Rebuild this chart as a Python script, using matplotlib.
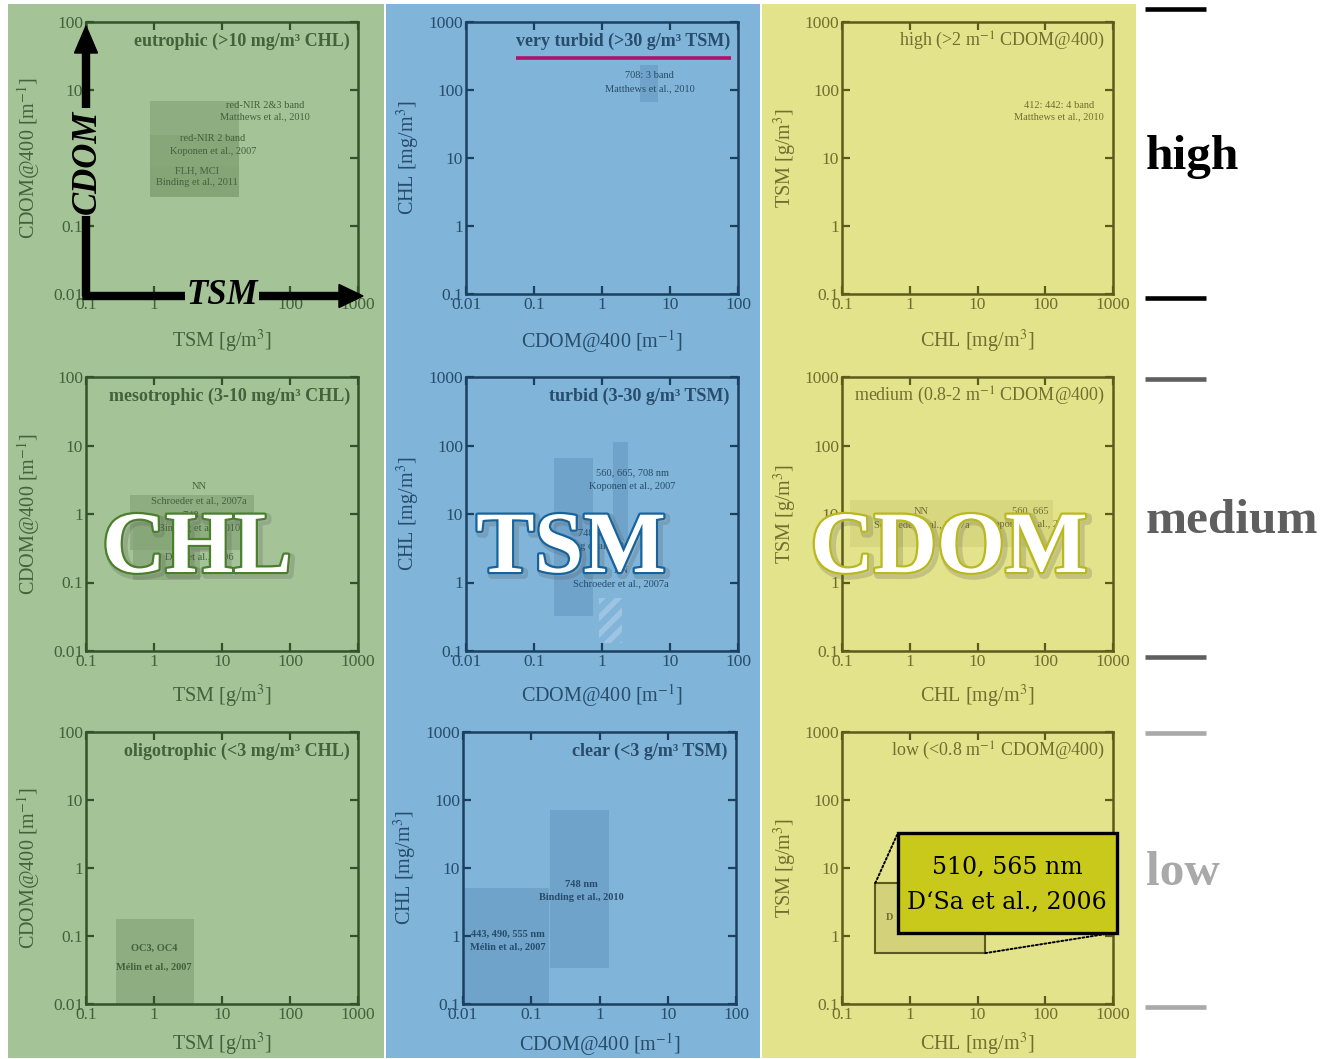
import matplotlib
matplotlib.use("Agg")
import matplotlib.pyplot as plt
from matplotlib.patches import Rectangle, FancyArrow, ConnectionPatch
from matplotlib.ticker import FixedLocator, FixedFormatter, NullLocator
from matplotlib import patheffects as pe

plt.rcParams['mathtext.fontset'] = 'stix'
plt.rcParams['hatch.linewidth'] = 4.0
SERIF = ['Liberation Serif', 'DejaVu Serif']

W, H = 1336, 1059

# ---------------- data ----------------
TSM_TICKS = [0.1, 1, 10, 100, 1000]
TSM_LABELS = ['0.1', '1', '10', '100', '1000']
CDOM_TICKS = [0.01, 0.1, 1, 10, 100]
CDOM_LABELS = ['0.01', '0.1', '1', '10', '100']
CHL_TICKS = [0.1, 1, 10, 100, 1000]
CHL_LABELS = ['0.1', '1', '10', '100', '1000']

TSM_NAME = 'TSM [g/m$^3$]'
CDOM_NAME = 'CDOM@400 [m$^{-1}$]'
CHL_NAME = 'CHL [mg/m$^3$]'

chl_titles = ['eutrophic (>10 mg/m³ CHL)', 'mesotrophic (3-10 mg/m³ CHL)',
              'oligotrophic (<3 mg/m³ CHL)']
tsm_titles = ['very turbid (>30 g/m³ TSM)', 'turbid (3-30 g/m³ TSM)',
              'clear (<3 g/m³ TSM)']
cdom_titles = ['high (>2 m$^{-1}$ CDOM@400)', 'medium (0.8-2 m$^{-1}$ CDOM@400)',
               'low (<0.8 m$^{-1}$ CDOM@400)']

# method validity ranges (x0, x1, y0, y1)
eutrophic_boxes = [(0.87, 18, 0.27, 6.9), (0.87, 18, 0.27, 2.2), (0.87, 18, 0.27, 0.75)]
eutrophic_text = [(43, 6.0, 'red-NIR 2&3 band'), (43, 4.0, 'Matthews et al., 2010'),
                  (7.4, 1.96, 'red-NIR 2 band'), (7.4, 1.26, 'Koponen et al., 2007'),
                  (4.3, 0.65, 'FLH, MCI'), (4.3, 0.43, 'Binding et al., 2011')]
very_turbid_boxes = [(3.6, 6.6, 67, 233)]
very_turbid_text = [(5.0, 166, '708: 3 band'), (5.0, 103, 'Matthews et al., 2010')]
very_turbid_line = (0.055, 80, 300)
high_cdom_text = [(160, 60, '412: 442: 4 band'), (160, 40, 'Matthews et al., 2010')]

meso_boxes = [(0.49, 4.8, 0.11, 0.93), (0.45, 30, 0.3, 1.9)]
meso_text = [(4.6, 2.5, 'NN'), (4.6, 1.55, 'Schroeder et al., 2007a'),
             (4.6, 0.95, '748 nm'), (4.6, 0.62, 'Binding et al., 2010'),
             (4.6, 0.38, 'OC4'), (4.6, 0.24, "D'Sa et al., 2006")]
turbid_boxes = [(0.2, 0.74, 0.32, 66), (1.45, 2.4, 4, 112)]
turbid_hatch = (0.9, 2.0, 0.13, 0.6)
turbid_text = [(2.8, 40, '560, 665, 708 nm'), (2.8, 25, 'Koponen et al., 2007'),
               (0.75, 5.2, '748 nm'), (0.75, 3.3, 'Binding et al., 2010'),
               (1.9, 1.5, 'NN'), (1.9, 0.95, 'Schroeder et al., 2007a')]
medium_boxes = [(0.13, 130, 3.3, 16)]
medium_text = [(1.5, 11, 'NN'), (1.5, 7.0, 'Schroeder et al., 2007a'),
               (60, 11, '560, 665'), (60, 7.0, 'Koponen et al., 2007')]

oligo_boxes = [(0.28, 3.9, 0.01, 0.18)]
oligo_text = [(1.0, 0.065, 'OC3, OC4'), (1.0, 0.035, 'Mélin et al., 2007')]
clear_boxes = [(0.01, 0.18, 0.1, 5.1), (0.19, 1.38, 0.34, 71)]
clear_text = [(0.55, 5.8, '748 nm'), (0.55, 3.7, 'Binding et al., 2010'),
              (0.045, 1.05, '443, 490, 555 nm'), (0.045, 0.68, 'Mélin et al., 2007')]
low_boxes = [(0.31, 13, 0.56, 6.0)]
low_text = [(0.5, 1.9, 'D')]

callout_lines = ['510, 565 nm', 'D‘Sa et al., 2006']
level_names = ['high', 'medium', 'low']
level_colors = ['#000000', '#5f5f5f', '#a9a9a9']

# ---------------- style ----------------
col_bg = ['#a4c396', '#80b4d8', '#e3e38b']
col_spine = ['#32522a', '#1b3f60', '#5c5a1c']
col_text = ['#43613a', '#274c6c', '#716e30']
col_box = ['#86a577', '#6a9dc4', '#d3d27a']
col_x = [(86, 358), (466, 738), (842, 1113)]
row_y = [(22, 294), (377, 651), (732, 1004)]

fig = plt.figure(figsize=(W / 100, H / 100), dpi=100)
fig.patch.set_facecolor('white')

for (x0, x1), c in zip([(8, 384), (386, 760), (762, 1136)], col_bg):
    fig.patches.append(Rectangle((x0 / W, 1 - 1058 / H), (x1 - x0) / W, (1058 - 4) / H,
                                 transform=fig.transFigure, facecolor=c,
                                 edgecolor='none', zorder=-5))

col_specs = [
    (TSM_TICKS, TSM_LABELS, CDOM_TICKS, CDOM_LABELS, TSM_NAME, CDOM_NAME, chl_titles),
    (CDOM_TICKS, CDOM_LABELS, CHL_TICKS, CHL_LABELS, CDOM_NAME, CHL_NAME, tsm_titles),
    (CHL_TICKS, CHL_LABELS, TSM_TICKS, TSM_LABELS, CHL_NAME, TSM_NAME, cdom_titles),
]
panel_boxes = [[eutrophic_boxes, very_turbid_boxes, []],
               [meso_boxes, turbid_boxes, medium_boxes],
               [oligo_boxes, clear_boxes, low_boxes]]
panel_texts = [[eutrophic_text, very_turbid_text, high_cdom_text],
               [meso_text, turbid_text, medium_text],
               [oligo_text, clear_text, low_text]]
xlab_off = [-0.125, -0.115, -0.1]

axes = {}
for r in range(3):
    for c in range(3):
        xt, xl, yt, yl, xn, yn, titles = col_specs[c]
        x0, x1 = col_x[c]
        if r == 2 and c == 1:
            x0, x1 = 463, 736
        y0, y1 = row_y[r]
        ax = fig.add_axes([x0 / W, 1 - y1 / H, (x1 - x0) / W, (y1 - y0) / H])
        ax.set_facecolor('none')
        ax.set_xscale('log')
        ax.set_yscale('log')
        ax.set_xlim(xt[0], xt[-1])
        ax.set_ylim(yt[0], yt[-1])
        ax.xaxis.set_major_locator(FixedLocator(xt))
        ax.xaxis.set_major_formatter(FixedFormatter(xl))
        ax.yaxis.set_major_locator(FixedLocator(yt))
        ax.yaxis.set_major_formatter(FixedFormatter(yl))
        ax.xaxis.set_minor_locator(NullLocator())
        ax.yaxis.set_minor_locator(NullLocator())
        ax.tick_params(direction='in', length=6, width=1.6, top=True, right=True,
                       colors=col_spine[c], labelcolor=col_text[c], labelsize=12.5, pad=2)
        for lab in ax.get_xticklabels() + ax.get_yticklabels():
            lab.set_family(SERIF)
        for s in ax.spines.values():
            s.set_color(col_spine[c])
            s.set_linewidth(1.8)
        ax.set_xlabel(xn, fontsize=14.5, color=col_text[c], family=SERIF)
        ax.set_ylabel(yn, fontsize=14.5, color=col_text[c], family=SERIF)
        ax.xaxis.set_label_coords(0.5, xlab_off[r])
        ax.yaxis.set_label_coords(-0.16, 0.5)
        ax.text(0.97, 0.93, titles[r], transform=ax.transAxes, ha='right', va='center',
                fontsize=13, color=col_text[c], family=SERIF,
                weight='bold' if c < 2 else 'normal')
        for (bx0, bx1, by0, by1) in panel_boxes[r][c]:
            ec = col_spine[c] if (r == 2 and c == 2) else 'none'
            ax.add_patch(Rectangle((bx0, by0), bx1 - bx0, by1 - by0, facecolor=col_box[c],
                                   edgecolor=ec, lw=1.5, alpha=0.7 if ec == 'none' else 1,
                                   zorder=1))
        for (tx, ty, tt) in panel_texts[r][c]:
            ax.text(tx, ty, tt, ha='center', va='center', fontsize=7.5, color=col_text[c],
                    family=SERIF, weight='bold' if r == 2 else 'normal', zorder=2)
        axes[(r, c)] = ax

# magenta line in very turbid panel
lx0, lx1, ly = very_turbid_line
axes[(0, 1)].plot([lx0, lx1], [ly, ly], color='#b0106c', lw=2.6, solid_capstyle='butt',
                  zorder=3)
# hatched strips in turbid panel
hx0, hx1, hy0, hy1 = turbid_hatch
axes[(1, 1)].add_patch(Rectangle((hx0, hy0), hx1 - hx0, hy1 - hy0, facecolor='none',
                                 edgecolor='#9dc4e2', lw=0, hatch='//', zorder=1))

# ---------------- overlay (pixel coordinates) ----------------
ov = fig.add_axes([0, 0, 1, 1], zorder=10)
ov.set_xlim(0, W)
ov.set_ylim(H, 0)
ov.axis('off')
ov.set_facecolor('none')

# axis arrows in top-left panel
ov.add_patch(FancyArrow(86, 296, 0, -270, width=7, head_width=23, head_length=27,
                        length_includes_head=True, color='black', zorder=3))
ov.add_patch(FancyArrow(83, 296, 280, 0, width=7, head_width=23, head_length=24,
                        length_includes_head=True, color='black', zorder=3))
ov.text(87, 162, 'CDOM', rotation=90, ha='center', va='center', fontsize=25,
        weight='bold', style='italic', family=SERIF, color='black', zorder=4,
        bbox=dict(facecolor=col_bg[0], edgecolor='none', pad=1))
ov.text(222, 296, 'TSM', ha='center', va='center', fontsize=25,
        weight='bold', style='italic', family=SERIF, color='black', zorder=4,
        bbox=dict(facecolor=col_bg[0], edgecolor='none', pad=1))

# large column words
big = [('CHL', 197, '#4a7f2c'), ('TSM', 571, '#15649f'), ('CDOM', 949, '#b9b81c')]
for word, bx, ec in big:
    ov.text(bx, 572, word, ha='center', va='baseline', fontsize=63, weight='bold',
            family=SERIF, color='white', zorder=5,
            path_effects=[pe.Stroke(linewidth=6, foreground='#555555', alpha=0.22,
                                    offset=(2, -2)),
                          pe.Stroke(linewidth=3.2, foreground=ec), pe.Normal()])

# right side level bars and labels
bar_y = [(9, 298), (379, 657), (733, 1007)]
label_y = [157, 521, 873]
for (ya, yb), ly_, name, colr in zip(bar_y, label_y, level_names, level_colors):
    for yy in (ya, yb):
        ov.plot([1145, 1206], [yy, yy], color=colr, lw=3.3, solid_capstyle='butt')
    ov.text(1146, ly_, name, ha='left', va='center', fontsize=35.5, weight='bold',
            family=SERIF, color=colr)

# callout box in low CDOM panel
ov.add_patch(Rectangle((898, 833), 219, 100, facecolor='#c9c91c', edgecolor='black',
                       lw=2.4, zorder=6))
ov.text(1007, 867, callout_lines[0], ha='center', va='center', fontsize=17,
        family=['DejaVu Serif'], color='black', zorder=7)
ov.text(1007, 902, callout_lines[1], ha='center', va='center', fontsize=17,
        family=['DejaVu Serif'], color='black', zorder=7)
lb = low_boxes[0]
ax22 = axes[(2, 2)]
for (dx, dy), (px, py) in [((lb[0], lb[3]), (897, 835)), ((lb[1], lb[2]), (1112, 933))]:
    cp = ConnectionPatch(xyA=(dx, dy), coordsA=ax22.transData, xyB=(px, py),
                         coordsB=ov.transData, linestyle=(0, (1, 1.2)), color='black',
                         lw=1.4, zorder=5)
    ov.add_artist(cp)

fig.savefig('out.png', dpi=100, facecolor='white')
